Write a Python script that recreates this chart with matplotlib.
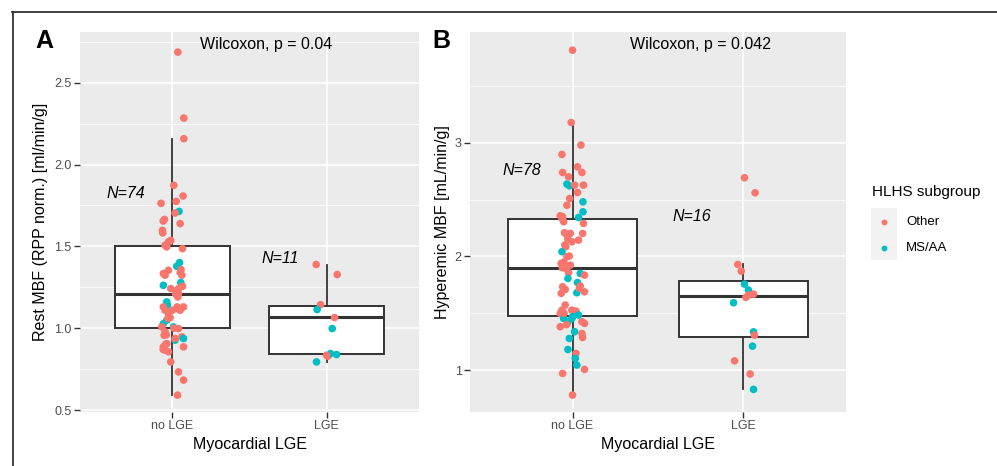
import matplotlib
matplotlib.use("Agg")
from matplotlib import pyplot as plt
from matplotlib.lines import Line2D
from matplotlib.patches import Rectangle

plt.rcParams['font.family'] = ['Liberation Sans', 'DejaVu Sans']

# ---------------- data ----------------
categories = ["no LGE", "LGE"]
subgroups = {"O": "Other", "M": "MS/AA"}
colors = {"O": "#F8766D", "M": "#00BFC4"}

# Panel A : rest MBF
a_nolge_y = [2.687, 2.284, 2.158, 1.873, 1.808, 1.775, 1.763, 1.714, 1.704, 1.665, 1.655, 1.639, 1.598,
             1.582, 1.527, 1.507, 1.537, 1.497, 1.486, 1.401, 1.378, 1.358, 1.354, 1.334, 1.324, 1.324,
             1.279, 1.262, 1.256, 1.242, 1.242, 1.218, 1.212, 1.191, 1.161, 1.140, 1.130, 1.130, 1.120,
             1.110, 1.110, 1.090, 1.065, 1.049, 1.028, 1.008, 1.008, 0.998, 0.978, 0.957, 0.927, 0.947,
             0.937, 0.937, 0.906, 0.886, 0.886, 0.866, 0.856, 0.794, 0.733, 0.683, 0.591,
             1.53, 1.34, 1.23, 1.11, 1.06, 1.00, 0.96, 0.90, 0.87, 1.13, 1.21]
a_nolge_grp = "OOOOOOOMOOOOO" + "OOOOOOMMOOOOOMMOOOMOOMMOOOOOOOMMOMOOOMOMOOOOOOOOOO" + "OOOOOOOOOOO"
a_nolge_jit = [0.035, 0.074, 0.074, 0.009, 0.069, 0.024, -0.074, 0.043, 0.017, -0.052, -0.06, 0.05, -0.065,
               -0.063, -0.026, -0.048, -0.011, -0.037, 0.065, 0.046, 0.028, 0.056, -0.026,
               -0.059, -0.048, 0.061, 0.054, -0.059, 0.065, -0.011, 0.039, 0.024, 0.039,
               0.035, -0.037, -0.032, -0.059, 0.072, 0.028, -0.048, 0.05, -0.026, -0.015,
               -0.037, -0.059, -0.069, 0.007, 0.039, -0.048, -0.054, 0.017, 0.061, 0.072,
               0.017, -0.037, 0.072, -0.059, -0.048, -0.026, -0.011, 0.039, 0.072, 0.033,
               -0.02, 0.05, 0.03, 0.0, -0.03, 0.01, -0.04, -0.045, -0.06, 0.03, 0.02]

a_lge_y = [1.389, 1.328, 1.144, 1.114, 1.065, 0.998, 0.829, 0.845, 0.839, 0.794, 0.835]
a_lge_grp = "OOOMOMOMMMO"
a_lge_jit = [-0.067, 0.069, -0.039, -0.061, 0.052, 0.037, 0.009, 0.026, 0.065, -0.065, 0.0]

# box stats (q1, median, q3, whisker low, whisker high)
a_q1 = [1.00, 0.845]
a_med = [1.207, 1.069]
a_q3 = [1.50, 1.134]
a_wlo = [0.591, 0.794]
a_whi = [2.154, 1.389]
a_n = ["N=74", "N=11"]
a_p = "Wilcoxon, p = 0.04"

# Panel B : hyperemic MBF
b_nolge_y = [3.814, 3.178, 2.979, 2.897, 2.788, 2.738, 2.738, 2.70, 2.636, 2.621, 2.627, 2.627, 2.562,
             2.509, 2.48, 2.45, 2.392, 2.342, 2.357, 2.349, 2.305, 2.29, 2.208, 2.202, 2.202, 2.149,
             2.143, 2.129, 2.085, 2.041, 1.997,
             2.003, 1.938, 1.923, 1.894, 1.856, 1.85, 1.835, 1.806, 1.77, 1.739, 1.733, 1.709, 1.688,
             1.68, 1.675, 1.572, 1.527, 1.498, 1.527, 1.519, 1.484, 1.454, 1.425, 1.454, 1.425, 1.41,
             1.381, 1.337, 1.322, 1.287, 1.278, 1.181, 1.146, 1.102, 1.044, 1.006, 0.97, 0.78,
             2.18, 2.10, 1.95, 1.90, 1.72, 1.50, 1.47, 1.40, 2.33]
b_nolge_grp = ("OOOOOOOOMMOOOOMOMMOOOOOOOOOOOMO"
               + "OOOOOMOMMOOOOMOOOOOOMMMMOOOMOOMMOMMOOO"
               + "OOOOOOMOO")
b_nolge_jit = [0.0, -0.008, 0.049, -0.062, 0.029, -0.058, 0.055, -0.023, -0.033, -0.019,
               0.012, 0.064, 0.029, -0.017, 0.061, -0.033, 0.061, 0.035, -0.072, -0.058,
               -0.052, 0.064, -0.047, -0.013, 0.059, -0.027, 0.035, -0.004, -0.039, -0.062, -0.033,
               -0.019, -0.066, -0.013, -0.039, -0.023, 0.045, 0.07, -0.027, 0.029, 0.045,
               -0.058, -0.043, 0.07, 0.025, -0.066, -0.043, -0.062, -0.072, -0.004, 0.02,
               0.035, -0.052, -0.027, -0.004, 0.055, 0.07, -0.072, 0.012, 0.055, 0.059,
               -0.019, -0.027, 0.02, 0.016, 0.025, 0.07, -0.058, 0.0,
               -0.03, -0.045, -0.05, -0.06, 0.04, -0.05, 0.0, -0.035, -0.06]

b_lge_y = [2.692, 2.56, 1.929, 1.87, 1.756, 1.704, 1.668, 1.639, 1.592, 1.336, 1.307, 1.21, 1.081,
           0.965, 0.83, 1.66]
b_lge_grp = "OOOOMMOOMMOMOOMO"
b_lge_jit = [0.006, 0.068, -0.033, -0.013, 0.006, 0.029, 0.059, 0.014, -0.058, 0.059, 0.064, 0.053,
             -0.052, 0.039, 0.059, 0.03]

b_q1 = [1.478, 1.288]
b_med = [1.894, 1.653]
b_q3 = [2.328, 1.783]
b_wlo = [0.80, 0.83]
b_whi = [3.147, 1.93]
b_n = ["N=78", "N=16"]
b_p = "Wilcoxon, p = 0.042"


W, H = 997, 466
fig = plt.figure(figsize=(W / 100, H / 100), dpi=100)

def px(x0, y0, x1, y1):
    return [x0 / W, 1 - y1 / H, (x1 - x0) / W, (y1 - y0) / H]

axA = fig.add_axes(px(80, 32, 419, 412))
axB = fig.add_axes(px(470, 32, 846, 412))


def draw_panel(ax, pts, q1, med, q3, wlo, whi):
    ax.set_facecolor("#EBEBEB")
    for s in ax.spines.values():
        s.set_visible(False)
    ax.set_axisbelow(True)
    ax.grid(True, which="major", color="white", linewidth=1.1)
    ax.grid(True, which="minor", axis="y", color="white", linewidth=0.55)

    stats = []
    for i in range(len(categories)):
        stats.append(dict(q1=q1[i], med=med[i], q3=q3[i], whislo=wlo[i], whishi=whi[i]))
    bp = ax.bxp(stats, positions=[1, 2], widths=0.75, patch_artist=True, showfliers=False,
                showcaps=False, manage_ticks=False,
                boxprops=dict(facecolor="white", edgecolor="#333333", linewidth=1.4),
                medianprops=dict(color="#333333", linewidth=2.2),
                whiskerprops=dict(color="#333333", linewidth=1.3))
    for art in bp["boxes"] + bp["medians"] + bp["whiskers"]:
        art.set_zorder(2)

    for i, (ys, gs, js) in enumerate(pts):
        xs = [i + 1 + j for j in js]
        cs = [colors[g] for g in gs]
        ax.scatter(xs, ys, s=30, c=cs, linewidths=0, zorder=3)

    ax.set_xlim(0.4, 2.6)
    ax.set_xticks([1, 2])
    ax.set_xticklabels(categories)
    ax.tick_params(axis="both", colors="#333333", length=4, width=1.0, labelsize=9,
                   labelcolor="#4D4D4D", pad=2)
    ax.tick_params(axis="y", which="minor", length=0)
    ax.set_xlabel("Myocardial LGE", fontsize=11.5, labelpad=3)


draw_panel(axA, [(a_nolge_y, a_nolge_grp, a_nolge_jit), (a_lge_y, a_lge_grp, a_lge_jit)],
           a_q1, a_med, a_q3, a_wlo, a_whi)
axA.set_ylim(0.488, 2.81)
axA.set_yticks([0.5, 1.0, 1.5, 2.0, 2.5])
axA.set_yticks([0.75, 1.25, 1.75, 2.25, 2.75], minor=True)
axA.set_ylabel("Rest MBF (RPP norm.) [ml/min/g]", fontsize=11.5)
axA.yaxis.set_label_coords(-0.094, 0.5)
axA.text(0.70, 1.824, a_n[0], fontsize=11.5, style="italic", ha="center", va="center")
axA.text(1.70, 1.429, a_n[1], fontsize=11.5, style="italic", ha="center", va="center")
axA.text(1.607, 2.734, a_p, fontsize=11.5, ha="center", va="center")

draw_panel(axB, [(b_nolge_y, b_nolge_grp, b_nolge_jit), (b_lge_y, b_lge_grp, b_lge_jit)],
           b_q1, b_med, b_q3, b_wlo, b_whi)
axB.set_ylim(0.631, 3.974)
axB.set_yticks([1, 2, 3])
axB.set_yticks([1.5, 2.5, 3.5], minor=True)
axB.set_ylabel("Hyperemic MBF [mL/min/g]", fontsize=11.5)
axB.yaxis.set_label_coords(-0.053, 0.5)
axB.text(0.704, 2.759, b_n[0], fontsize=11.5, style="italic", ha="center", va="center")
axB.text(1.698, 2.348, b_n[1], fontsize=11.5, style="italic", ha="center", va="center")
axB.text(1.75, 3.868, b_p, fontsize=11.5, ha="center", va="center")

# panel letters
fig.text(35 / W, 1 - 41 / H, "A", fontsize=18, fontweight="bold", va="center")
fig.text(432 / W, 1 - 41 / H, "B", fontsize=18, fontweight="bold", va="center")

# legend, drawn by hand
fig.text(872 / W, 1 - 192 / H, "HLHS subgroup", fontsize=11, va="center")
fig.add_artist(Rectangle((871 / W, 1 - 260 / H), 26 / W, 52 / H, transform=fig.transFigure,
                         facecolor="#F2F2F2", edgecolor="none"))
for k, key in enumerate(["O", "M"]):
    yy = 1 - (222 + 26 * k) / H
    fig.add_artist(Line2D([884 / W], [yy], marker="o", markersize=3.2, color=colors[key],
                          linestyle="none", transform=fig.transFigure))
    fig.text(906 / W, yy, subgroups[key], fontsize=9.5, va="center")

# frame around the figure (top + left visible)
fig.add_artist(Line2D([12 / W, 1], [1 - 11.5 / H] * 2, color="#333333", linewidth=1.3,
                      transform=fig.transFigure))
fig.add_artist(Line2D([12.5 / W] * 2, [0, 1 - 11.5 / H], color="#333333", linewidth=1.3,
                      transform=fig.transFigure))

fig.savefig("out.png", dpi=100)
